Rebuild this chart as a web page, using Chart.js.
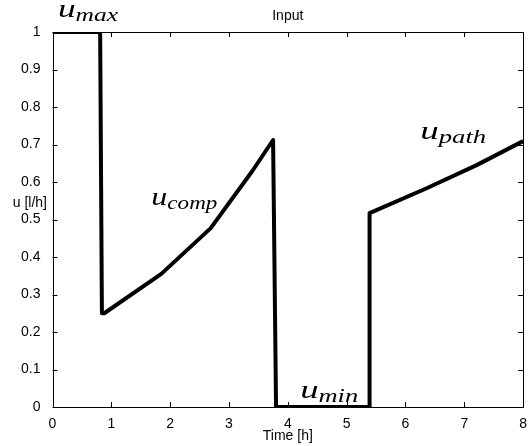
<!DOCTYPE html>
<html>
<head>
<meta charset="utf-8">
<script src="https://cdn.jsdelivr.net/npm/chart.js@4/dist/chart.umd.min.js"></script>
<style>
  body { margin: 0; background: #fff; }
  #wrap { width: 528px; height: 446px; }
</style>
</head>
<body>
<div id="wrap"><canvas id="chart"></canvas></div>
<script>
// control input over time
const timeH = [0, 0.81, 0.84, 0.88, 1.85, 2.69, 3.4, 3.75, 3.8, 5.39, 5.39, 6.37, 7.21, 8];
const inputU = [1, 1, 0.25, 0.25, 0.355, 0.477, 0.63, 0.712, 0, 0, 0.517, 0.584, 0.645, 0.709];

const xTicks = [0, 1, 2, 3, 4, 5, 6, 7, 8];
const yTicks = [0, 0.1, 0.2, 0.3, 0.4, 0.5, 0.6, 0.7, 0.8, 0.9, 1];

const chartTitle = "Input";
const xTitle = "Time [h]";
const yTitle = "u [l/h]";

// region labels: text, subscript
const regionNames = ["u", "u", "u", "u"];
const regionSubs = ["max", "comp", "min", "path"];
const regionAt = [[0.093, 1.04], [1.68, 0.539], [4.21, 0.024], [6.25, 0.715]];
const regionWidth = [60, 66, 58, 66];

const sansFont = "'Liberation Sans', Arial, sans-serif";
const fmt = v => String(+Number(v).toFixed(1));

const axesBox = {
  id: "axesBox",
  afterDraw(chart) {
    const { ctx, chartArea: a, scales } = chart;
    ctx.save();
    ctx.strokeStyle = "#000";
    ctx.lineWidth = 1;
    ctx.strokeRect(Math.round(a.left) + 0.5, Math.round(a.top) + 0.5,
      Math.round(a.right - a.left) - 1, Math.round(a.bottom - a.top));
    ctx.beginPath();
    xTicks.forEach(v => {
      const px = Math.round(scales.x.getPixelForValue(v)) + 0.5;
      ctx.moveTo(px, a.bottom); ctx.lineTo(px, a.bottom - 5);
      ctx.moveTo(px, a.top); ctx.lineTo(px, a.top + 5);
    });
    yTicks.forEach(v => {
      const py = Math.round(scales.y.getPixelForValue(v)) + 0.5;
      ctx.moveTo(a.left, py); ctx.lineTo(a.left + 5, py);
      ctx.moveTo(a.right, py); ctx.lineTo(a.right - 5, py);
    });
    ctx.stroke();

    ctx.fillStyle = "#000";
    ctx.font = "14px " + sansFont;
    ctx.textAlign = "center";
    ctx.textBaseline = "middle";
    ctx.fillText(chartTitle, (a.left + a.right) / 2, 16);
    ctx.fillText(xTitle, (a.left + a.right) / 2, 436);
    ctx.textAlign = "right";
    ctx.fillText(yTitle, 47, 203);

    // math style labels
    ctx.textAlign = "left";
    ctx.textBaseline = "alphabetic";
    regionNames.forEach((name, i) => {
      const x0 = scales.x.getPixelForValue(regionAt[i][0]);
      const y0 = scales.y.getPixelForValue(regionAt[i][1]);
      ctx.font = "italic 25px 'Liberation Serif', serif";
      const w1 = ctx.measureText(name).width;
      ctx.font = "italic 18px 'Liberation Serif', serif";
      const w2 = ctx.measureText(regionSubs[i]).width;
      const sx = regionWidth[i] / (w1 + w2);
      ctx.save();
      ctx.translate(x0, y0);
      ctx.scale(sx, 1);
      ctx.font = "italic 25px 'Liberation Serif', serif";
      ctx.fillText(name, 0, 0);
      ctx.font = "italic 18px 'Liberation Serif', serif";
      ctx.fillText(regionSubs[i], w1, 4);
      ctx.restore();
    });
    ctx.restore();
  }
};

new Chart(document.getElementById("chart"), {
  type: "line",
  data: {
    datasets: [{
      data: timeH.map((t, i) => ({ x: t, y: inputU[i] })),
      borderColor: "#000",
      borderWidth: 4,
      borderJoinStyle: "round",
      pointRadius: 0,
      tension: 0,
      fill: false
    }]
  },
  options: {
    responsive: true,
    maintainAspectRatio: false,
    animation: false,
    layout: { padding: { top: 32, right: 1, left: 0, bottom: 0 } },
    plugins: { legend: { display: false }, tooltip: { enabled: false } },
    scales: {
      x: {
        type: "linear",
        min: 0,
        max: 8,
        afterBuildTicks: s => { s.ticks = xTicks.map(v => ({ value: v })); },
        afterFit: s => { s.height = 39; },
        grid: { display: false },
        border: { display: false },
        ticks: { color: "#000", font: { family: sansFont, size: 14 }, padding: 1, maxRotation: 0, autoSkip: false, callback: fmt }
      },
      y: {
        min: 0,
        max: 1,
        afterBuildTicks: s => { s.ticks = yTicks.map(v => ({ value: v })); },
        afterFit: s => { s.width = 52.5; },
        grid: { display: false },
        border: { display: false },
        ticks: { color: "#000", font: { family: sansFont, size: 14 }, padding: 4, autoSkip: false, callback: fmt }
      }
    }
  },
  plugins: [axesBox]
});
</script>
</body>
</html>
